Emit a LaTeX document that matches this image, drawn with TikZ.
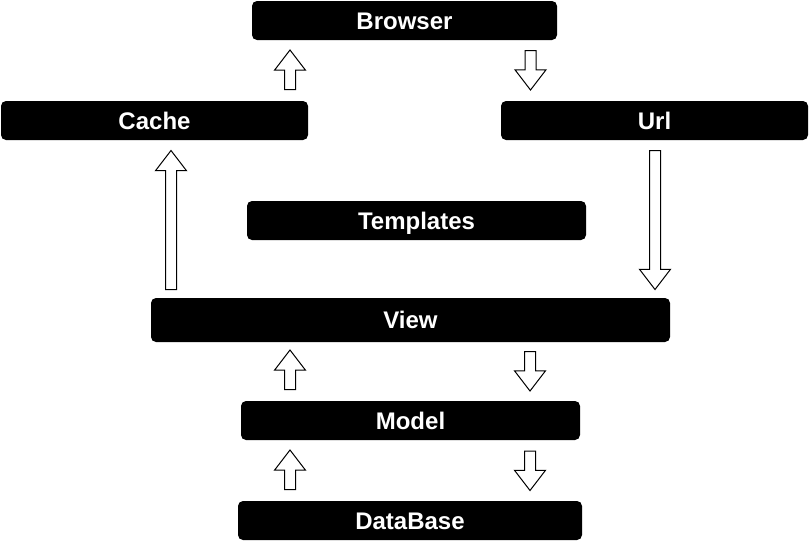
\documentclass[tikz,border=0pt]{standalone}
\usepackage{fontspec}
\setmainfont{Liberation Sans}
\usetikzlibrary{shapes.arrows}

\begin{document}
\begin{tikzpicture}[x=1pt,y=-1pt,
    box/.style={fill=black,rounded corners=5pt,text=white,inner sep=0pt,
      font=\fontsize{24}{28}\selectfont\bfseries,text height=17.2pt,text depth=0pt},
    flow/.style={single arrow,draw=black,fill=white,line width=1pt,inner sep=5pt,
      single arrow head extend=10pt,single arrow tip angle=75,
      single arrow head indent=0pt,minimum height=39.5pt,anchor=tail}]
    \useasboundingbox (0,0) rectangle (810,541);
    % boxes
    \node[box,minimum width=305pt,minimum height=39pt] (browser) at (404.5,20.5) {Browser};
    \node[box,minimum width=307pt,minimum height=39pt] (cache) at (154.5,120.5) {Cache};
    \node[box,minimum width=307pt,minimum height=39pt] (url) at (654.5,120.5) {Url};
    \node[box,minimum width=339pt,minimum height=39pt] (templates) at (416.5,220.5) {Templates};
    \node[box,minimum width=519pt,minimum height=44pt] (view) at (410.5,320) {View};
    \node[box,minimum width=339pt,minimum height=39pt] (model) at (410.5,420.5) {Model};
    \node[box,minimum width=344pt,minimum height=39pt] (database) at (410,520.5) {DataBase};
    % arrows (placed by their tails)
    \node[flow,rotate=90] (browserup) at (290,90) {};
    \node[flow,rotate=-90] (urldown) at (530.5,50) {};
    \node[flow,rotate=90,minimum height=139pt] (cacheup) at (171,290) {};
    \node[flow,rotate=-90,minimum height=139pt] (viewdown) at (655,150) {};
    \node[flow,rotate=90] (viewup) at (290,390) {};
    \node[flow,rotate=-90] (modeldown) at (530,351) {};
    \node[flow,rotate=90] (modelup) at (290,490) {};
    \node[flow,rotate=-90] (databasedown) at (530,450.5) {};
\end{tikzpicture}
\end{document}
